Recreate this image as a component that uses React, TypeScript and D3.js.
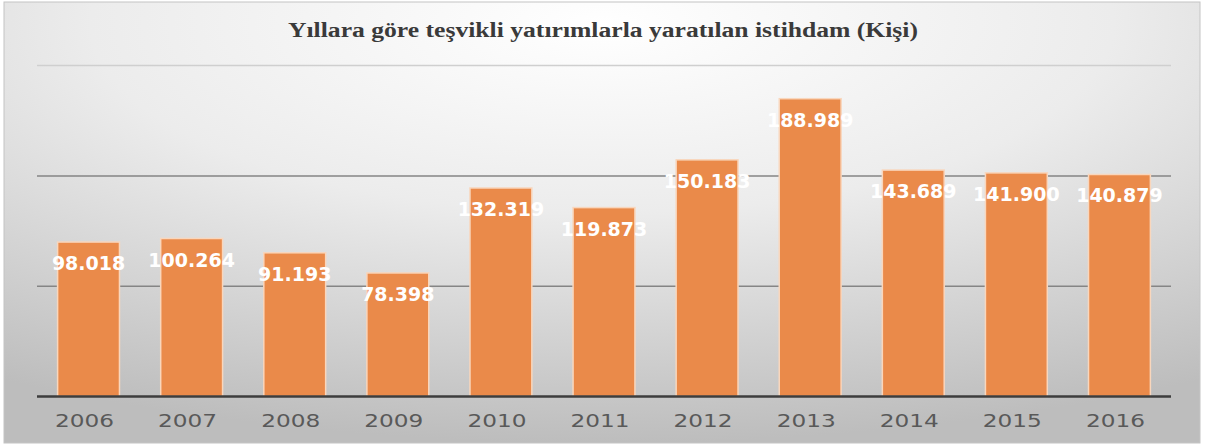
import React from "react";
import * as d3 from "d3";

const years = ["2006", "2007", "2008", "2009", "2010", "2011", "2012", "2013", "2014", "2015", "2016"];
const values = [98018, 100264, 91193, 78398, 132319, 119873, 150183, 188989, 143689, 141900, 140879];
const valueLabels = ["98.018", "100.264", "91.193", "78.398", "132.319", "119.873", "150.183", "188.989", "143.689", "141.900", "140.879"];
const gridTicks = [70000, 140000, 210000];
const title = "Yıllara göre teşvikli yatırımlarla yaratılan istihdam (Kişi)";

const W = 1206;
const H = 446;

export default function App() {
  const x = d3.scaleBand<string>().domain(years).range([37, 1171]).paddingInner(0.4).paddingOuter(0.2);
  const y = d3.scaleLinear().domain([0, 211000]).range([396.5, 64]);

  return (
    <svg width={W} height={H} style={{ position: "absolute", left: 0, top: 0 }}>
      <defs>
        <radialGradient id="bg" cx="50%" cy="5%" r="95%" fx="50%" fy="5%">
          <stop offset="0%" stopColor="#ffffff" />
          <stop offset="45%" stopColor="#ececec" />
          <stop offset="100%" stopColor="#bdbdbd" />
        </radialGradient>
      </defs>
      <rect x={0} y={0} width={W} height={H} fill="#ffffff" />
      <rect x={4} y={2} width={1196} height={441} fill="url(#bg)" stroke="#c4c4c4" strokeWidth={1} />
      <text
        x={603}
        y={36.5}
        textAnchor="middle"
        fontFamily="'Liberation Serif', 'Times New Roman', serif"
        fontWeight="bold"
        fontSize={20}
        fill="#3a3a3a"
        textLength={630}
        lengthAdjust="spacingAndGlyphs"
      >
        {title}
      </text>
      {gridTicks.map((t, i) => (
        <line
          key={t}
          x1={37}
          x2={1171}
          y1={y(t)}
          y2={y(t)}
          stroke={i === gridTicks.length - 1 ? "#cfcfcf" : "#858585"}
          strokeWidth={1.5}
        />
      ))}
      {years.map((yr, i) => (
        <rect
          key={yr}
          x={x(yr)!}
          y={y(values[i])}
          width={x.bandwidth()}
          height={y(0) - y(values[i])}
          fill="#ea8a4a"
          stroke="#f9d6bc"
          strokeWidth={1.5}
        />
      ))}
      <line x1={37} x2={1171} y1={y(0)} y2={y(0)} stroke="#3d3d3d" strokeWidth={2.5} />
      {years.map((yr, i) => (
        <text
          key={"v" + yr}
          x={x(yr)! + x.bandwidth() / 2}
          y={y(values[i]) + 28}
          textAnchor="middle"
          fontFamily="'DejaVu Sans', Verdana, sans-serif"
          fontWeight="bold"
          fontSize={19}
          fill="#ffffff"
        >
          {valueLabels[i]}
        </text>
      ))}
      {years.map((yr) => (
        <text
          key={"t" + yr}
          x={x(yr)! + x.bandwidth() / 2 - 4}
          y={427}
          textAnchor="middle"
          fontFamily="'DejaVu Sans', Verdana, sans-serif"
          fontSize={18}
          fill="#595959"
          textLength={59}
          lengthAdjust="spacingAndGlyphs"
        >
          {yr}
        </text>
      ))}
    </svg>
  );
}
